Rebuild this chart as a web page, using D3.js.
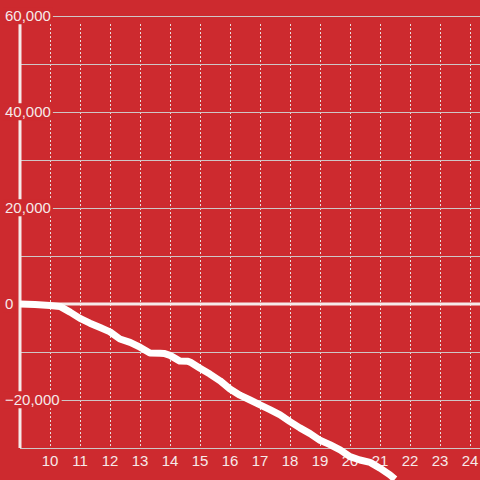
<!DOCTYPE html>
<html lang="en">
  <head>
    <meta charset="UTF-8" />
    <title>chart</title>
    <style>
      body { margin: 0; background: #cd2a2f; }
      text { font-family: "Liberation Sans", Arial, sans-serif; }
    </style>
  </head>
  <body>
    <div id="chart"></div>
    <script src="https://d3js.org/d3.v7.min.js"></script>
    <script>
      // data
      var xValues = [9, 9.5, 10, 10.33, 10.67, 11, 11.33, 11.67, 12, 12.33, 12.67, 13, 13.33, 13.67, 13.8,
        14, 14.33, 14.6, 14.67, 15, 15.33, 15.67, 16, 16.33, 16.67, 17, 17.33, 17.67, 18, 18.33, 18.67,
        19, 19.33, 19.67, 20, 20.33, 20.67, 21, 21.33, 21.5];
      var yValues = [0, -100, -300, -500, -1700, -3000, -4000, -4900, -5800, -7300, -8000, -9000, -10200, -10250, -10300,
        -10700, -11900, -11950, -12100, -13400, -14600, -16000, -17700, -19000, -20000, -21000, -22000, -23100, -24500, -25800, -27000,
        -28400, -29300, -30400, -31800, -32500, -33000, -34200, -35600, -36500];
      var yTicks = [60000, 40000, 20000, 0, -20000];
      var yGrid = [60000, 50000, 40000, 30000, 20000, 10000, -10000, -20000, -30000];
      var xTicks = [10, 11, 12, 13, 14, 15, 16, 17, 18, 19, 20, 21, 22, 23, 24];

      var data = xValues.map(function (d, i) {
        return { x: d, y: yValues[i] };
      });

      var width = 480, height = 480;
      var bg = "#cd2a2f", ink = "#f6e9e9";

      var svg = d3.select("#chart").append("svg")
        .attr("width", width)
        .attr("height", height);

      svg.append("rect").attr("width", width).attr("height", height).attr("fill", bg);

      var x = d3.scaleLinear().domain([9, 24.333]).range([20, 480]);
      var y = d3.scaleLinear().domain([-30000, 60000]).range([448, 16]);

      // vertical dashed grid
      svg.append("g").selectAll("line")
        .data(xTicks)
        .enter()
        .append("line")
        .attr("x1", function (d) { return Math.round(x(d)) + 0.5; })
        .attr("x2", function (d) { return Math.round(x(d)) + 0.5; })
        .attr("y1", 24)
        .attr("y2", 446)
        .attr("stroke", "#e8dede")
        .attr("stroke-width", 1)
        .attr("stroke-dasharray", "2,2");

      // horizontal grid
      svg.append("g").selectAll("line")
        .data(yGrid)
        .enter()
        .append("line")
        .attr("x1", 20)
        .attr("x2", 480)
        .attr("y1", function (d) { return Math.round(y(d)) + 0.5; })
        .attr("y2", function (d) { return Math.round(y(d)) + 0.5; })
        .attr("stroke", "#cfc6c6")
        .attr("stroke-width", 1);

      // y axis line + zero line
      svg.append("line")
        .attr("x1", 20).attr("x2", 20)
        .attr("y1", y(60000)).attr("y2", y(-30000))
        .attr("stroke", ink).attr("stroke-width", 3);
      svg.append("line")
        .attr("x1", 20).attr("x2", 480)
        .attr("y1", y(0)).attr("y2", y(0))
        .attr("stroke", ink).attr("stroke-width", 3);

      // y labels with background boxes
      var yLab = svg.append("g").selectAll("g")
        .data(yTicks)
        .enter()
        .append("g")
        .attr("transform", function (d) { return "translate(5," + y(d) + ")"; });
      yLab.append("text")
        .attr("dy", "0.35em")
        .attr("font-size", 15)
        .attr("fill", ink)
        .text(function (d) { return d3.format(",")(d); });
      yLab.each(function () {
        var g = d3.select(this);
        var b = g.select("text").node().getBBox();
        g.insert("rect", "text")
          .attr("x", b.x - 2)
          .attr("y", b.y)
          .attr("width", b.width + 4)
          .attr("height", b.height)
          .attr("fill", bg);
      });

      // x labels
      svg.append("g").selectAll("text")
        .data(xTicks)
        .enter()
        .append("text")
        .attr("x", function (d) { return x(d); })
        .attr("y", 466)
        .attr("text-anchor", "middle")
        .attr("font-size", 15)
        .attr("fill", ink)
        .text(function (d) { return d; });

      // the line
      var line = d3.line()
        .x(function (d) { return x(d.x); })
        .y(function (d) { return y(d.y); });
      svg.append("path")
        .datum(data)
        .attr("d", line)
        .attr("fill", "none")
        .attr("stroke", "#ffffff")
        .attr("stroke-width", 7)
        .attr("stroke-linejoin", "round");
    </script>
  </body>
</html>
